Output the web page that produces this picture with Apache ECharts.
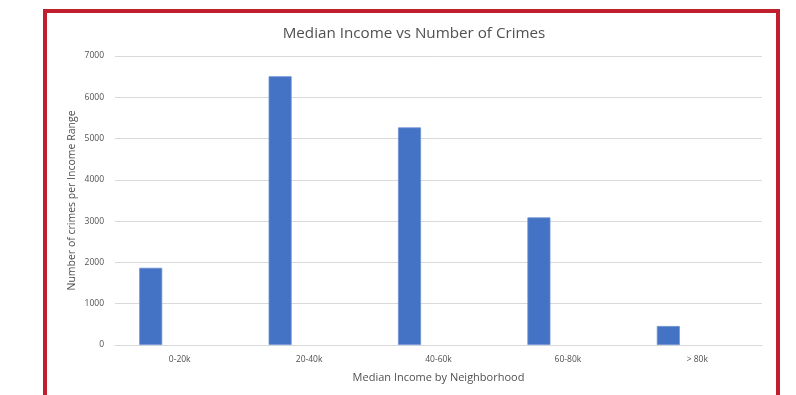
<!DOCTYPE html>
<html>
<head>
<meta charset="utf-8">
<script src="https://cdn.jsdelivr.net/npm/echarts@6/dist/echarts.min.js"></script>
<style>
  html, body { margin: 0; padding: 0; background: #ffffff; }
  #chart { width: 796px; height: 395px; }
</style>
</head>
<body>
<div id="chart"></div>
<script>
// Crime counts per neighborhood income bracket
const incomeRanges = ['0-20k', '20-40k', '40-60k', '60-80k', '> 80k'];
const crimeCounts = [1870, 6510, 5270, 3090, 460];
const yTicks = { min: 0, max: 7000, step: 1000 };

const chart = echarts.init(document.getElementById('chart'), null, { renderer: 'canvas' });
const textFont = '"Open Sans", "Noto Sans", sans-serif';

chart.setOption({
  backgroundColor: '#ffffff',
  animation: false,
  title: {
    text: 'Median Income vs Number of Crimes',
    left: 409,
    textAlign: 'center',
    top: 21,
    textStyle: { fontFamily: textFont, fontSize: 15.2, fontWeight: 'normal', color: '#505050' }
  },
  graphic: [{
    type: 'rect',
    shape: { x: 45, y: 11, width: 733, height: 400 },
    style: { fill: 'none', stroke: '#C0202E', lineWidth: 4 },
    silent: true,
    z: 10
  }],
  grid: { left: 115, right: 34, top: 56, bottom: 50 },
  xAxis: {
    type: 'category',
    data: incomeRanges,
    name: 'Median Income by Neighborhood',
    nameLocation: 'middle',
    nameGap: 27,
    nameMoveOverlap: false,
    nameTextStyle: { fontFamily: textFont, fontSize: 11, color: '#505050' },
    axisLine: { lineStyle: { color: '#D9D9D9', width: 1 } },
    axisTick: { show: false },
    axisLabel: { fontFamily: textFont, fontSize: 8.5, color: '#505050', margin: 10 }
  },
  yAxis: {
    type: 'value',
    min: yTicks.min,
    max: yTicks.max,
    interval: yTicks.step,
    name: 'Number of crimes per Income Range',
    nameLocation: 'middle',
    nameGap: 37,
    nameMoveOverlap: false,
    nameTextStyle: { fontFamily: textFont, fontSize: 10.5, color: '#505050' },
    axisLine: { show: false },
    axisTick: { show: false },
    splitLine: { lineStyle: { color: '#D9D9D9', width: 1 } },
    axisLabel: {
      fontFamily: textFont, fontSize: 8.5, color: '#505050', margin: 11,
      formatter: (v) => String(v)
    }
  },
  series: [
    {
      type: 'bar',
      data: crimeCounts,
      barWidth: 23,
      barGap: '152%',
      itemStyle: { color: '#4472C4', borderColor: '#6A8FD2', borderWidth: 0.8 }
    },
    {
      // empty companion series keeps the Excel-style left offset of each bar
      type: 'bar',
      data: incomeRanges.map(() => null),
      barWidth: 23
    }
  ]
});
</script>
</body>
</html>
